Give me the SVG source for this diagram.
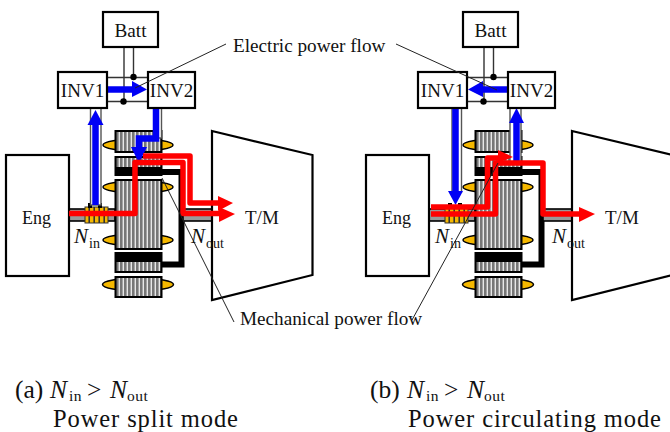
<svg xmlns="http://www.w3.org/2000/svg" width="670" height="432" viewBox="0 0 670 432">
<style>
text{font-family:"Liberation Serif","Times New Roman",serif;fill:#111;font-size:19px}
.i{font-style:italic}
.box{fill:#fff;stroke:#000;stroke-width:2.200}
.wire{fill:none;stroke:#333;stroke-width:1.400}
.tube{fill:#fff;stroke:#555;stroke-width:1.400}
.gear{fill:url(#st);stroke:#000;stroke-width:2}
.oval{fill:#f5b800;stroke:#000;stroke-width:1.500}
.blue{fill:none;stroke:#0000f5;stroke-width:6.500}
.red{fill:none;stroke:#f00;stroke-width:5.500;stroke-linejoin:round}
.bh{fill:#0000f5}.rh{fill:#f00}
.lead{fill:none;stroke:#222;stroke-width:1}
.sub{font-size:14px}
.cap{font-size:25.500px}
.line2{font-size:24.500px;letter-spacing:.9px}
.csub{font-size:15.500px;letter-spacing:.5px}
.lab{font-size:19.200px}
</style>
<defs>
<pattern id="st" width="4" height="4" patternUnits="userSpaceOnUse"><rect width="4" height="4" fill="#e8e8e8"/><rect width="2.600" height="4" fill="#777"/></pattern>
<pattern id="ys" width="5" height="4" patternUnits="userSpaceOnUse"><rect width="5" height="4" fill="#333"/><rect width="3.400" height="4" fill="#f5b800"/></pattern>
<g id="drive">
<path d="M161,172H181.500V264.500H161" fill="none" stroke="#000" stroke-width="6"/>
<rect x="69" y="209" width="46" height="12" fill="#999" stroke="#000" stroke-width="1.600"/>
<rect x="183" y="209" width="29" height="12" fill="#999" stroke="#000" stroke-width="1.600"/>
<ellipse cx="138" cy="145" rx="35" ry="6" class="oval"/>
<ellipse cx="138" cy="187" rx="35" ry="6" class="oval"/>
<ellipse cx="138" cy="240" rx="35" ry="6" class="oval"/>
<ellipse cx="138" cy="284.500" rx="35.500" ry="6.500" class="oval"/>
<rect x="115.500" y="131" width="46" height="21" class="gear"/>
<rect x="115.500" y="157" width="46" height="18" class="gear"/>
<rect x="115" y="167" width="47" height="8" fill="#000"/>
<rect x="115.500" y="180" width="46" height="69" class="gear"/>
<rect x="115.500" y="253" width="46" height="19" class="gear"/>
<rect x="115" y="253" width="47" height="9" fill="#000"/>
<rect x="115.500" y="277" width="46" height="20" class="gear"/>
<rect x="85" y="207" width="23" height="16" fill="url(#ys)" stroke="#333" stroke-width="1"/>
<rect x="88" y="203" width="4" height="5" fill="#000"/><rect x="98" y="203" width="4" height="5" fill="#000"/>
<rect x="6" y="155" width="63" height="121" class="box"/>
<path d="M212,131L312.500,155V275L212,300Z" fill="none" stroke="#000" stroke-width="2.200"/>
</g>
</defs>
<rect width="670" height="432" fill="#fff"/>
<g id="drive-a"><use href="#drive"/></g>
<g id="drive-b"><use href="#drive" x="360"/></g>

<g id="connectors">
<path class="wire" d="M124,47V101.500M133.500,47V77M107,77.500H148M107,101.500H148"/>
<path class="wire" d="M484,47V101.500M493.500,47V77M467,77.500H508M467,101.500H508"/>
<circle cx="133.500" cy="77" r="3.200"/><circle cx="123.500" cy="101.500" r="3.200"/>
<circle cx="493.500" cy="77" r="3.200"/><circle cx="483.500" cy="101.500" r="3.200"/>
<rect x="90.500" y="108" width="10.500" height="97" class="tube"/>
<rect x="154" y="108" width="7.500" height="30" class="tube"/>
<rect x="452" y="108" width="9.500" height="84" class="tube"/>
<rect x="510" y="108" width="11" height="55" class="tube"/>

<path class="blue" d="M107,89.500H134"/><path class="bh" d="M132,81L147,89.500L132,97Z"/>
<path class="blue" d="M95.500,122V205"/><path class="bh" d="M95.500,110L103.500,125H87.500Z"/>
<path class="blue" d="M156,108V138.500H139V150"/><path class="bh" d="M131,147H147L139,163Z"/>
<path class="red" d="M69,213.500H135V162.500H183V213.500H220"/>
<path class="red" d="M143,156H190V203H220"/>
<path class="rh" d="M218,196L233,203L218,211Z"/><path class="rh" d="M219,207L235,214L219,222Z"/>

<path class="blue" d="M508,89.500H480"/><path class="bh" d="M483,81L468,89.500L483,97Z"/>
<path class="blue" d="M455.500,108V192"/><path class="bh" d="M448,191H463L455.500,205Z"/>
<path class="blue" d="M516.500,120V162"/><path class="bh" d="M516.500,108L524,123H509Z"/>
<path class="red" d="M431,207H487.500V158H500"/>
<path class="red" d="M431,214H495.500V163H543V214H580"/>
<path class="rh" d="M498,150L513,157L498,163Z"/><path class="rh" d="M579,207L595,214L579,222Z"/>
</g>

<g id="batt-a"><rect x="103" y="12" width="55" height="35" class="box"/><text x="130.500" y="37" text-anchor="middle" class="lab">Batt</text></g>
<g id="inv1-a"><rect x="58" y="72" width="49" height="36" class="box"/><text x="82.500" y="97" text-anchor="middle">INV1</text></g>
<g id="inv2-a"><rect x="148" y="72" width="47" height="36" class="box"/><text x="171.500" y="97" text-anchor="middle">INV2</text></g>
<g id="batt-b"><rect x="463" y="12" width="55" height="35" class="box"/><text x="490.500" y="37" text-anchor="middle" class="lab">Batt</text></g>
<g id="inv1-b"><rect x="418" y="72" width="49" height="36" class="box"/><text x="442.500" y="97" text-anchor="middle">INV1</text></g>
<g id="inv2-b"><rect x="508" y="72" width="47" height="36" class="box"/><text x="531.500" y="97" text-anchor="middle">INV2</text></g>

<g id="leaders">
<path class="lead" d="M226,44L135,88M396,44L497,90M162,178L234,322M498,163L412,320"/>
</g>

<g id="labels">
<text x="22" y="224" style="font-size:18px">Eng</text><text x="382" y="224" style="font-size:18px">Eng</text>
<text x="245" y="224">T/M</text><text x="605" y="224">T/M</text>
<text x="74" y="243" class="i" style="font-size:21px">N</text><text x="89" y="248" class="sub">in</text>
<text x="191" y="243" class="i" style="font-size:21px">N</text><text x="206" y="248" class="sub">out</text>
<text x="435" y="243" class="i" style="font-size:21px">N</text><text x="450" y="248" class="sub">in</text>
<text x="552" y="243" class="i" style="font-size:21px">N</text><text x="567" y="248" class="sub">out</text>
<text x="233" y="52" class="lab">Electric power flow</text>
<text x="240" y="325" class="lab">Mechanical power flow</text>
<text x="15" y="398" class="cap">(a)</text><text x="50" y="398" class="cap i">N</text><text x="69" y="401" class="csub">in</text><text x="87" y="398" class="cap">&gt;</text><text x="110" y="398" class="cap i">N</text><text x="127" y="401" class="csub">out</text>
<text x="53" y="426.500" class="line2">Power split mode</text>
<text x="370" y="398" class="cap">(b)</text><text x="407" y="398" class="cap i">N</text><text x="426" y="401" class="csub">in</text><text x="444" y="398" class="cap">&gt;</text><text x="467" y="398" class="cap i">N</text><text x="484" y="401" class="csub">out</text>
<text x="408" y="426.500" class="line2">Power circulating mode</text>
</g>
</svg>
